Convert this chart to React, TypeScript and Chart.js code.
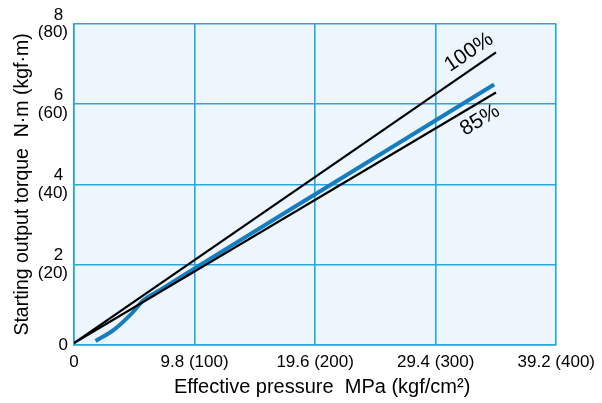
import React, { useEffect, useRef } from "react";
import { Chart, registerables } from "chart.js";

Chart.register(...registerables);

// ---- data ----
const xTickValues = [0, 9.8, 19.6, 29.4, 39.2];
const xTickLabels = ["0", "9.8 (100)", "19.6 (200)", "29.4 (300)", "39.2 (400)"];
const yTickValues = [0, 2, 4, 6, 8];
const yTickLabels: (string | string[])[] = ["0", ["2 ", "(20)"], ["4 ", "(40)"], ["6 ", "(60)"], ["8 ", "(80)"]];

const line100X = [0, 34.3];
const line100Y = [0.05, 7.29];
const line85X = [0, 34.3];
const line85Y = [0.05, 6.29];
const actualX = [1.75, 3.2, 4.7, 5.66, 7.0, 9.8, 21.5, 34.15];
const actualY = [0.1, 0.37, 0.79, 1.12, 1.37, 1.91, 4.11, 6.49];

const xTitle = "Effective pressure  MPa (kgf/cm²)";
const yTitle = "Starting output torque  N·m (kgf·m)";
const lineLabels = ["100%", "85%"];
const lineLabelX = [32.1, 33.0];
const lineLabelY = [7.29, 5.6];
const lineLabelAngle = [-34, -31];

const FONT = "'Liberation Sans', Arial, Helvetica, sans-serif";

const toPts = (xs: number[], ys: number[]) => xs.map((x, i) => ({ x, y: ys[i] }));

export default function App() {
  const ref = useRef<HTMLCanvasElement | null>(null);
  useEffect(() => {
    document.body.style.margin = "0";
    const bgPlugin = {
      id: "bg",
      beforeDraw(chart: any) {
        const { ctx, chartArea } = chart;
        ctx.save();
        ctx.fillStyle = "#eef6fd";
        ctx.fillRect(chartArea.left, chartArea.top, chartArea.right - chartArea.left, chartArea.bottom - chartArea.top);
        ctx.restore();
      },
      afterDraw(chart: any) {
        const { ctx, chartArea } = chart;
        const xs = chart.scales.x;
        const ys = chart.scales.y;
        ctx.save();
        ctx.fillStyle = "#000";
        ctx.font = `20px ${FONT}`;
        ctx.textAlign = "center";
        ctx.textBaseline = "middle";
        ctx.fillText(xTitle, (chartArea.left + chartArea.right) / 2 + 7, 387);
        ctx.save();
        ctx.font = `19.5px ${FONT}`;
        ctx.translate(23, (chartArea.top + chartArea.bottom) / 2);
        ctx.rotate(-Math.PI / 2);
        ctx.fillText(yTitle, 0, 0);
        ctx.restore();
        ctx.font = `21px ${FONT}`;
        lineLabels.forEach((t, i) => {
          ctx.save();
          ctx.translate(xs.getPixelForValue(lineLabelX[i]), ys.getPixelForValue(lineLabelY[i]));
          ctx.rotate((lineLabelAngle[i] * Math.PI) / 180);
          ctx.fillText(t, 0, 0);
          ctx.restore();
        });
        ctx.restore();
      },
    };
    const chart = new Chart(ref.current!, {
      type: "scatter",
      data: {
        datasets: [
          {
            data: toPts(line100X, line100Y),
            showLine: true,
            borderColor: "#000",
            borderWidth: 2.2,
            pointRadius: 0,
          },
          {
            data: toPts(line85X, line85Y),
            showLine: true,
            borderColor: "#000",
            borderWidth: 2.2,
            pointRadius: 0,
          },
          {
            data: toPts(actualX, actualY),
            showLine: true,
            borderColor: "#167dc0",
            borderWidth: 4,
            pointRadius: 0,
            cubicInterpolationMode: "monotone",
            borderCapStyle: "butt",
          } as any,
        ],
      },
      options: {
        responsive: false,
        animation: false,
        layout: { padding: { left: 0, top: 23, right: 43, bottom: 0 } },
        plugins: { legend: { display: false }, tooltip: { enabled: false } },
        scales: {
          x: {
            type: "linear",
            min: 0,
            max: 39.2,
            afterBuildTicks: (s: any) => {
              s.ticks = xTickValues.map((v) => ({ value: v }));
            },
            afterFit: (s: any) => {
              s.height = 58;
            },
            ticks: {
              callback: (v: any) => {
                const i = xTickValues.findIndex((t) => Math.abs(t - Number(v)) < 1e-6);
                return i >= 0 ? xTickLabels[i] : "";
              },
              font: { family: FONT, size: 17 },
              color: "#000",
              padding: 7,
              maxRotation: 0,
              autoSkip: false,
            },
            grid: { color: "#27a6df", lineWidth: 1.6, drawTicks: false },
            border: { color: "#27a6df", width: 1.6 },
          },
          y: {
            type: "linear",
            min: 0,
            max: 8,
            afterBuildTicks: (s: any) => {
              s.ticks = yTickValues.map((v) => ({ value: v }));
            },
            afterFit: (s: any) => {
              s.width = 74;
            },
            ticks: {
              callback: (v: any) => {
                const i = yTickValues.findIndex((t) => Math.abs(t - Number(v)) < 1e-6);
                return i >= 0 ? yTickLabels[i] : "";
              },
              font: { family: FONT, size: 17, lineHeight: 1.05 },
              color: "#000",
              padding: 6,
              crossAlign: "near",
              autoSkip: false,
            },
            grid: { color: "#27a6df", lineWidth: 1.6, drawTicks: false },
            border: { color: "#27a6df", width: 1.6 },
          },
        },
      },
      plugins: [bgPlugin],
    } as any);
    return () => chart.destroy();
  }, []);
  return (
    <div style={{ width: 602, height: 403 }}>
      <canvas ref={ref} width={602} height={403} />
    </div>
  );
}
